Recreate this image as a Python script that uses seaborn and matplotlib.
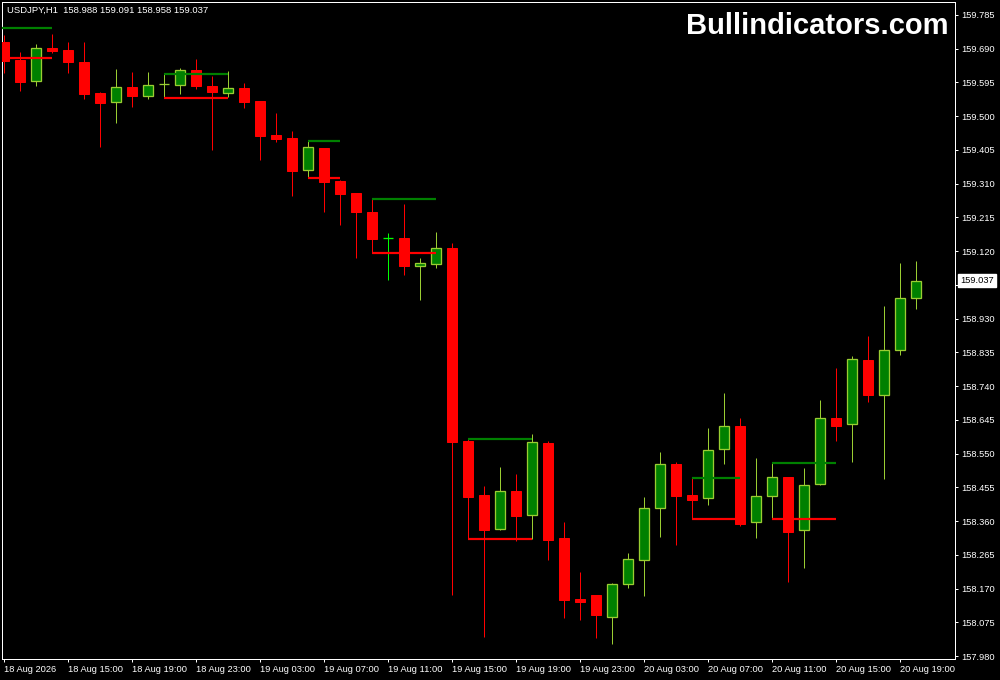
import matplotlib
matplotlib.use("Agg")
import seaborn as sns
from matplotlib import pyplot as plt

symbol = "USDJPY,H1"

opens = [159.709, 159.658, 159.599, 159.692, 159.686, 159.653, 159.565, 159.540, 159.582, 159.557,
         159.590, 159.588, 159.630, 159.585, 159.565, 159.580, 159.543, 159.447, 159.439, 159.349,
         159.411, 159.318, 159.284, 159.230, 159.157, 159.157, 159.078, 159.084, 159.129, 158.586,
         158.434, 158.338, 158.445, 158.377, 158.580, 158.312, 158.141, 158.152, 158.090, 158.183,
         158.250, 158.397, 158.521, 158.434, 158.425, 158.563, 158.628, 158.357, 158.431, 158.484,
         158.335, 158.464, 158.650, 158.633, 158.814, 158.715, 158.842, 158.988]
highs = [159.729, 159.681, 159.703, 159.732, 159.709, 159.709, 159.568, 159.633, 159.625, 159.625,
         159.619, 159.636, 159.661, 159.613, 159.627, 159.594, 159.543, 159.509, 159.458, 159.430,
         159.411, 159.320, 159.284, 159.267, 159.171, 159.253, 159.101, 159.174, 159.143, 158.591,
         158.459, 158.512, 158.493, 158.605, 158.586, 158.357, 158.217, 158.152, 158.186, 158.270,
         158.428, 158.555, 158.526, 158.481, 158.622, 158.721, 158.650, 158.538, 158.524, 158.484,
         158.510, 158.701, 158.791, 158.825, 158.881, 158.966, 159.087, 159.091]
lows = [159.622, 159.571, 159.585, 159.678, 159.622, 159.548, 159.413, 159.481, 159.526, 159.548,
        159.551, 159.563, 159.577, 159.405, 159.554, 159.523, 159.377, 159.427, 159.275, 159.326,
        159.230, 159.194, 159.101, 159.115, 159.039, 159.053, 158.983, 159.073, 158.152, 158.310,
        158.034, 158.335, 158.304, 158.310, 158.250, 158.087, 158.082, 158.031, 158.014, 158.172,
        158.149, 158.315, 158.293, 158.366, 158.405, 158.521, 158.346, 158.312, 158.366, 158.189,
        158.228, 158.462, 158.586, 158.526, 158.695, 158.479, 158.828, 158.958]
closes = [159.655, 159.596, 159.692, 159.684, 159.653, 159.563, 159.537, 159.582, 159.557, 159.588,
          159.591, 159.630, 159.585, 159.568, 159.580, 159.540, 159.444, 159.436, 159.346, 159.413,
          159.315, 159.281, 159.230, 159.154, 159.157, 159.078, 159.087, 159.129, 158.583, 158.428,
          158.335, 158.445, 158.374, 158.583, 158.307, 158.138, 158.132, 158.096, 158.183, 158.253,
          158.397, 158.521, 158.431, 158.419, 158.560, 158.628, 158.352, 158.431, 158.484, 158.329,
          158.462, 158.650, 158.628, 158.816, 158.715, 158.842, 158.988, 159.037]

# mother-bar ranges: first bar, last bar, high line, low line
box_start = [-1, 10, 19, 23, 29, 43, 48]
box_end = [3, 14, 21, 27, 33, 46, 52]
box_high = [159.748, 159.619, 159.430, 159.267, 158.591, 158.481, 158.524]
box_low = [159.664, 159.551, 159.326, 159.115, 158.310, 158.366, 158.366]

time_ticks = [0, 4, 8, 12, 16, 20, 24, 28, 32, 36, 40, 44, 48, 52, 56]
time_labels = ["18 Aug 2026", "18 Aug 15:00", "18 Aug 19:00", "18 Aug 23:00", "19 Aug 03:00",
               "19 Aug 07:00", "19 Aug 11:00", "19 Aug 15:00", "19 Aug 19:00", "19 Aug 23:00",
               "20 Aug 03:00", "20 Aug 07:00", "20 Aug 11:00", "20 Aug 15:00", "20 Aug 19:00"]
price_ticks = [157.980, 158.075, 158.170, 158.265, 158.360, 158.455, 158.550, 158.645, 158.740,
               158.835, 158.930, 159.025, 159.120, 159.215, 159.310, 159.405, 159.500, 159.595,
               159.690, 159.785]

BULL_FILL = "#008000"
BULL_LINE = "#9ACD32"
BEAR = "#FF0000"
DOJI = "#00FF00"

sns.set_theme(style="dark", rc={
    "axes.facecolor": "black",
    "figure.facecolor": "black",
    "axes.edgecolor": "white",
    "xtick.color": "white",
    "ytick.color": "white",
    "text.color": "white",
})
plt.rcParams['font.family'] = ['Liberation Sans', 'DejaVu Sans']

fig = plt.figure(figsize=(10, 6.8), dpi=100)
ax = fig.add_axes([2 / 1000, 21 / 680, 953 / 1000, 657 / 680])

px = 0.72  # one pixel in points
width = 0.65
for i, (o, h, l, c) in enumerate(zip(opens, highs, lows, closes)):
    if c > o:
        ax.vlines(i, l, h, color=BULL_LINE, lw=px, zorder=2)
        ax.bar(i, c - o, bottom=o, width=width, color=BULL_FILL, edgecolor=BULL_LINE,
               linewidth=px * 1.3, zorder=3)
    elif c < o:
        ax.vlines(i, l, h, color=BEAR, lw=px, zorder=2)
        ax.bar(i, o - c, bottom=c, width=width, color=BEAR, edgecolor=BEAR,
               linewidth=px, zorder=3)
    else:
        ax.vlines(i, l, h, color=DOJI, lw=px, zorder=2)
        ax.hlines(o, i - width / 2, i + width / 2, color=DOJI, lw=px * 1.3, zorder=3)

for s, e, hi, lo in zip(box_start, box_end, box_high, box_low):
    ax.hlines(hi, s, e, color=BULL_FILL, lw=px * 2.2, zorder=4)
    ax.hlines(lo, s, e, color=BEAR, lw=px * 2.2, zorder=4)

ax.set_xlim(-0.11, 59.45)
ax.set_ylim(157.9717, 159.8216)

last = closes[-1]

ax.yaxis.tick_right()
ax.set_yticks(price_ticks)
# the tick label hidden under the current-price marker is left blank
ax.set_yticklabels(["" if abs(p - last) < 0.03 else f"{p:.3f}" for p in price_ticks])
ax.set_xticks(time_ticks)
ax.set_xticklabels(time_labels, ha="left")
ax.tick_params(axis="y", length=2.5, width=px, pad=2.0, labelsize=6.7, right=True, left=False)
ax.tick_params(axis="x", length=2.5, width=px, pad=1.5, labelsize=6.7, bottom=True)
for sp in ax.spines.values():
    sp.set_color("white")
    sp.set_linewidth(px)
ax.grid(False)

ax.annotate(f"{last:.3f}", xy=(1, last), xycoords=("axes fraction", "data"),
            xytext=(3.8, 0), textcoords="offset points", va="center", ha="left",
            fontsize=6.7, color="black", annotation_clip=False, zorder=10,
            bbox=dict(boxstyle="square,pad=0.22", fc="white", ec="white"))

fig.text(7 / 1000, 1 - 10.5 / 680,
         f"{symbol}  {opens[-1]:.3f} {highs[-1]:.3f} {lows[-1]:.3f} {closes[-1]:.3f}",
         ha="left", va="center", fontsize=6.8, color="white")
fig.text(948 / 1000, 1 - 34 / 680, "Bullindicators.com", ha="right", va="baseline",
         fontsize=21, fontweight="bold", color="white")

fig.savefig("out.png", dpi=100, facecolor="black")
